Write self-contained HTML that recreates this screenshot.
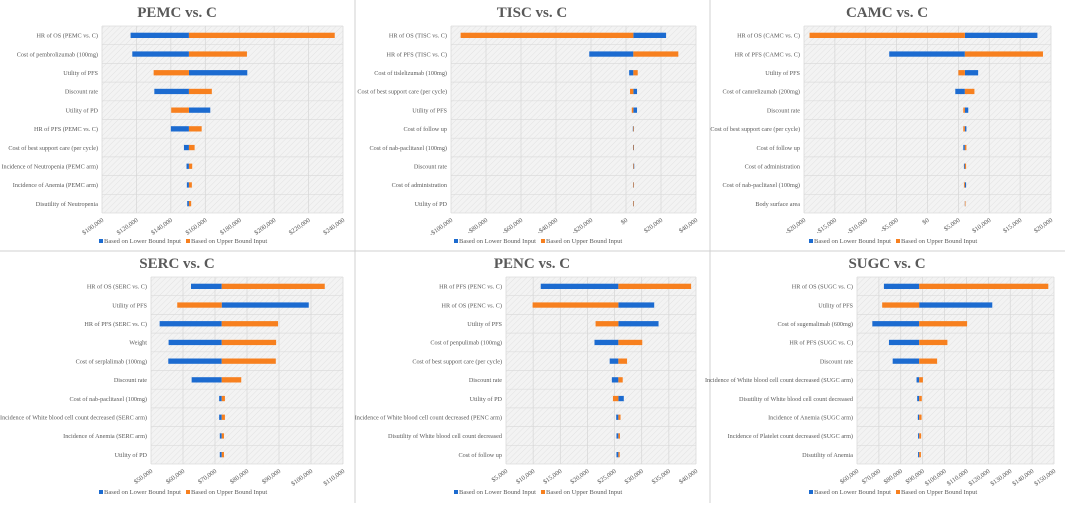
<!DOCTYPE html>
<html><head><meta charset="utf-8"><style>
html,body{margin:0;padding:0;background:#fff;}
svg text{font-family:"Liberation Serif",serif;}
</style></head><body>
<svg id="root" width="1065" height="503" viewBox="0 0 1065 503" xmlns="http://www.w3.org/2000/svg">
<defs>
<pattern id="hatch" width="4" height="4" patternUnits="userSpaceOnUse" patternTransform="rotate(45)">
<rect width="4" height="4" fill="#f3f3f3"/><line x1="0" y1="0" x2="0" y2="4" stroke="#e2e2e2" stroke-width="1"/>
</pattern>
</defs>
<line x1="355" y1="0" x2="355" y2="503" stroke="#d0d0d0"/>
<line x1="710" y1="0" x2="710" y2="503" stroke="#d0d0d0"/>
<line x1="0" y1="251" x2="1065" y2="251" stroke="#d0d0d0"/>
</svg>
<script>
// ---- PEMC ----
const pemcCats = ["HR of OS (PEMC vs. C)","Cost of pembrolizumab (100mg)","Utility of PFS","Discount rate","Utility of PD","HR of PFS (PEMC vs. C)","Cost of best support care (per cycle)","Incidence of Neutropenia (PEMC arm)","Incidence of Anemia (PEMC arm)","Disutility of Neutropenia"];
const pemcLow = [116.6,117.6,184.4,130.4,162.9,140,147.6,149.1,149.3,149.5];
const pemcHigh = [235.2,184.2,130,163.8,140.2,157.9,153.8,152.4,152.2,151.8];
const pemcTicks = [100,120,140,160,180,200,220,240];
// ---- TISC ----
const tiscCats = ["HR of OS (TISC vs. C)","HR of PFS (TISC vs. C)","Cost of tislelizumab (100mg)","Cost of best support care (per cycle)","Utility of PFS","Cost of follow up","Cost of nab-paclitaxel (100mg)","Discount rate","Cost of administration","Utility of PD"];
const tiscLow = [22.9,-21,1.8,6.3,6.3,3.9,4.5,4.7,4.1,4.1];
const tiscHigh = [-94.5,29.9,6.7,2.3,3.3,4.5,4.0,4.1,4.3,4.3];
const tiscTicks = [-100,-80,-60,-40,-20,0,20,40];
// ---- CAMC ----
const camcCats = ["HR of OS (CAMC vs. C)","HR of PFS (CAMC vs. C)","Utility of PFS","Cost of camrelizumab (200mg)","Discount rate","Cost of best support care (per cycle)","Cost of follow up","Cost of administration","Cost of nab-paclitaxel (100mg)","Body surface area"];
const camcLow = [17.8,-6.2,8.2,4.5,6.6,6.3,5.8,5.9,6.25,6.1];
const camcHigh = [-19.1,18.7,5.0,7.6,5.8,5.8,6.3,6.25,5.9,6.05];
const camcTicks = [-20,-15,-10,-5,0,5,10,15,20];
// ---- SERC ----
const sercCats = ["HR of OS (SERC vs. C)","Utility of PFS","HR of PFS (SERC vs. C)","Weight","Cost of serplalimab (100mg)","Discount rate","Cost of nab-paclitaxel (100mg)","Incidence of White blood cell count decreased (SERC arm)","Incidence of Anemia (SERC arm)","Utility of PD"];
const sercLow = [62.5,99.3,52.7,55.5,55.4,62.7,71.3,71.3,71.5,71.5];
const sercHigh = [104.3,58.2,89.7,89.1,89.0,78.2,73.1,73.1,72.8,72.8];
const sercTicks = [50,60,70,80,90,100,110];
// ---- PENC ----
const pencCats = ["HR of PFS (PENC vs. C)","HR of OS (PENC vs. C)","Utility of PFS","Cost of penpulimab (100mg)","Cost of best support care (per cycle)","Discount rate","Utility of PD","Incidence of White blood cell count decreased (PENC arm)","Disutility of White blood cell count decreased","Cost of follow up"];
const pencLow = [11.4,32.3,33.1,21.3,24.1,24.5,26.7,25.3,25.35,25.35];
const pencHigh = [39.1,9.9,21.5,30.1,27.3,26.5,24.7,26.1,26.0,25.95];
const pencTicks = [5,10,15,20,25,30,35,40];
// ---- SUGC ----
const sugcCats = ["HR of OS (SUGC vs. C)","Utility of PFS","Cost of sugemalimab (600mg)","HR of PFS (SUGC vs. C)","Discount rate","Incidence of White blood cell count decreased (SUGC arm)","Disutility of White blood cell count decreased","Incidence of Anemia (SUGC arm)","Incidence of Platelet count decreased (SUGC arm)","Disutility of Anemia"];
const sugcLow = [72.3,121.8,67.0,74.6,76.3,87.2,87.5,87.8,87.9,87.9];
const sugcHigh = [147.4,71.5,110.3,101.3,96.6,90.1,89.6,89.5,89.3,89.2];
const sugcTicks = [60,70,80,90,100,110,120,130,140,150];

const charts = [
 {title:"PEMC vs. C",name:"pemc",ox:0,oy:0,x0:102,x1:343,base:150.5,cats:pemcCats,low:pemcLow,high:pemcHigh,ticks:pemcTicks},
 {title:"TISC vs. C",name:"tisc",ox:355,oy:0,x0:96,x1:341,base:4.2,cats:tiscCats,low:tiscLow,high:tiscHigh,ticks:tiscTicks},
 {title:"CAMC vs. C",name:"camc",ox:710,oy:0,x0:94,x1:341,base:6.05,cats:camcCats,low:camcLow,high:camcHigh,ticks:camcTicks},
 {title:"SERC vs. C",name:"serc",ox:0,oy:251,x0:151,x1:343,base:72.1,cats:sercCats,low:sercLow,high:sercHigh,ticks:sercTicks},
 {title:"PENC vs. C",name:"penc",ox:355,oy:251,x0:151,x1:341,base:25.7,cats:pencCats,low:pencLow,high:pencHigh,ticks:pencTicks},
 {title:"SUGC vs. C",name:"sugc",ox:710,oy:251,x0:147,x1:344,base:88.4,cats:sugcCats,low:sugcLow,high:sugcHigh,ticks:sugcTicks}
];
const NS="http://www.w3.org/2000/svg";
const root=document.getElementById('root');
function mk(tag,attrs,parent){const e=document.createElementNS(NS,tag);for(const k in attrs)e.setAttribute(k,attrs[k]);parent.appendChild(e);return e;}
function fmt(v){const a=Math.abs(v);let s=a===0?"$0":"$"+a+",000";return (v<0?"-":"")+s;}
charts.forEach(c=>{
 const g=mk('g',{transform:`translate(${c.ox},${c.oy})`},root);
 
 
 const t=mk('text',{x:177,y:17,'text-anchor':'middle','font-size':'15','font-weight':'bold',fill:'#595959'},g);
 t.textContent=c.title;
 
 
 const y0=26,y1=213;
 const tmin=c.ticks[0],tmax=c.ticks[c.ticks.length-1];
 const xs=v=>c.x0+(v-tmin)/(tmax-tmin)*(c.x1-c.x0);
 const n=c.cats.length,rh=(y1-y0)/n;
 const bg=mk('rect',{x:c.x0,y:y0,width:c.x1-c.x0,height:y1-y0,fill:'url(#hatch)'},g);
 
 
 for(let i=0;i<=n;i++){mk('line',{x1:c.x0,x2:c.x1,y1:y0+i*rh,y2:y0+i*rh,stroke:'#dcdcdc','stroke-width':0.7},g);}
 c.ticks.forEach(tk=>{
  const x=xs(tk);
  mk('line',{x1:x,x2:x,y1:y0,y2:y1,stroke:'#d6d6d6','stroke-width':0.7},g);
  const tl=mk('text',{x:x+2,y:y1+8,'text-anchor':'end','font-size':'6.5',fill:'#595959',transform:`rotate(-35 ${x+2} ${y1+8})`},g);
  tl.textContent=fmt(tk);
  
  
 });
 const xb=xs(c.base);
 c.cats.forEach((cat,i)=>{
  const cy=y0+(i+0.5)*rh;
  const lb=mk('text',{x:c.x0-4,y:cy+2.2,'text-anchor':'end','font-size':'6.2',fill:'#595959'},g);
  lb.textContent=cat;
  
  
  const bh=5.3;
  [[c.low[i],'#1c6bd0','lower-bound-bar'],[c.high[i],'#f7801f','upper-bound-bar']].forEach(([v,col,nm])=>{
   const xv=xs(v);
   const r=mk('rect',{x:Math.min(xb,xv),y:cy-bh/2,width:Math.max(0.6,Math.abs(xv-xb)),height:bh,fill:col},g);
   
   
  });
 });
 const lg=mk('g',{},g);
 
 
 mk('rect',{x:99,y:239,width:4,height:4,fill:'#1c6bd0'},lg);
 const l1=mk('text',{x:104,y:243,'font-size':'6.5',fill:'#595959'},lg);l1.textContent="Based on Lower Bound Input";
 mk('rect',{x:186,y:239,width:4,height:4,fill:'#f7801f'},lg);
 const l2=mk('text',{x:191,y:243,'font-size':'6.5',fill:'#595959'},lg);l2.textContent="Based on Upper Bound Input";
});
</script>
</body></html>
